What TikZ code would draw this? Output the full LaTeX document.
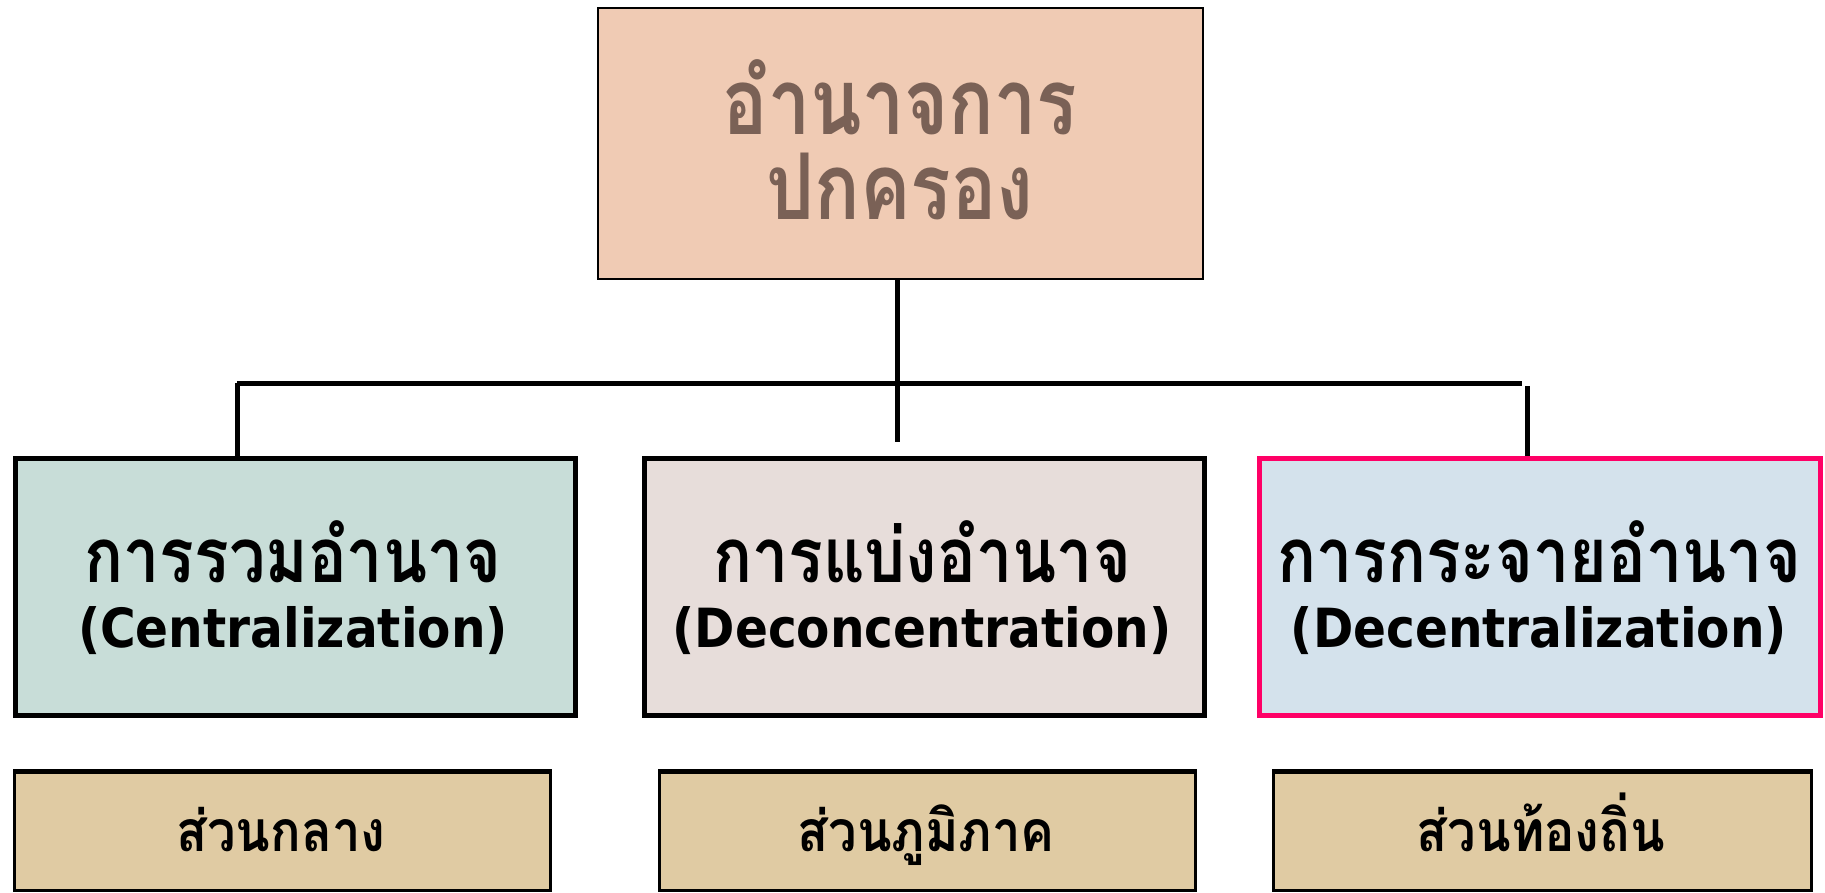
\documentclass[tikz,border=0pt]{standalone}
\usepackage{fontspec}
\newfontfamily\thaiA[Script=Thai,FakeStretch=0.82]{Loma}
\newfontfamily\thaiB[Script=Thai,FakeStretch=0.85]{Loma}
\newfontfamily\thaiC[Script=Thai,FakeStretch=0.89]{Loma}
\newfontfamily\lat{DejaVu Sans Condensed}
\definecolor{topfill}{HTML}{F0CBB4}
\definecolor{toptext}{HTML}{7A6156}
\definecolor{cfill}{HTML}{C8DDD8}
\definecolor{dfill}{HTML}{E7DDDA}
\definecolor{efill}{HTML}{D4E2EC}
\definecolor{eline}{HTML}{FF0066}
\definecolor{bfill}{HTML}{E0CBA3}
\begin{document}
\begin{tikzpicture}[x=1pt,y=-1pt,
  box/.style={draw=black,rectangle,inner sep=0pt,anchor=north west},
  lbl/.style={anchor=base,inner sep=0pt},
  conn/.style={line width=5pt},
  thaitop/.style={font=\thaiA\bfseries\fontsize{92}{92}\selectfont,text=toptext},
  thaimid/.style={font=\thaiB\bfseries\fontsize{76}{76}\selectfont},
  latmid/.style={font=\lat\bfseries\fontsize{54}{54}\selectfont},
  thaibot/.style={font=\thaiC\bfseries\fontsize{57}{57}\selectfont}]
\useasboundingbox (0,0) rectangle (1825,892);
\clip (0,0) rectangle (1825,892);
% boxes
\node[box,fill=topfill,line width=1.6pt,minimum width=605pt,minimum height=271pt] (top) at (597,7) {};
\node[box,fill=cfill,line width=5pt,minimum width=560pt,minimum height=257pt] (c1) at (13,456) {};
\node[box,fill=dfill,line width=5pt,minimum width=560pt,minimum height=257pt] (c2) at (642,456) {};
\node[box,fill=efill,draw=eline,line width=5pt,minimum width=561pt,minimum height=257pt] (c3) at (1257,456) {};
\node[box,fill=bfill,line width=3pt,minimum width=536pt,minimum height=118pt] (b1) at (13,771) {};
\node[box,fill=bfill,line width=3pt,minimum width=536pt,minimum height=118pt] (b2) at (658,771) {};
\node[box,fill=bfill,line width=3pt,minimum width=538pt,minimum height=118pt] (b3) at (1272,771) {};
\foreach \b in {b1,b2,b3}{\draw[line width=5pt] (\b.north west) -- (\b.north east);}
% connectors
\coordinate (hl) at (237,383);
\coordinate (hr) at (1522,383);
\coordinate (mid) at (897,442);
\coordinate (rv) at (1527,386);
\draw[conn] (top.south -| mid) -- (mid);
\draw[conn] (hl) -- (hr);
\draw[conn] (hl) -- (hl |- c1.north);
\draw[conn] (rv) -- (rv |- c3.north);
% labels
\node[lbl,thaitop] (t1) at (900,134) {อำนาจการ};
\node[lbl,thaitop] (t2) at (900,219) {ปกครอง};
\node[lbl,thaimid] (c1a) at (293,582) {การรวมอำนาจ};
\node[lbl,latmid] (c1b) at (293,647) {(Centralization)};
\node[lbl,thaimid] (c2a) at (922,582) {การแบ่งอำนาจ};
\node[lbl,latmid] (c2b) at (922,647) {(Deconcentration)};
\node[lbl,thaimid] (c3a) at (1539,582) {การกระจายอำนาจ};
\node[lbl,latmid] (c3b) at (1539,647) {(Decentralization)};
\node[lbl,thaibot] (b1a) at (281,851) {ส่วนกลาง};
\node[lbl,thaibot] (b2a) at (926,851) {ส่วนภูมิภาค};
\node[lbl,thaibot] (b3a) at (1541,851) {ส่วนท้องถิ่น};
\end{tikzpicture}
\end{document}
